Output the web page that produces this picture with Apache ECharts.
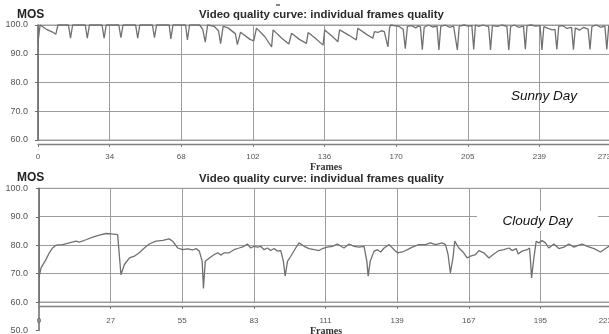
<!DOCTYPE html>
<html><head><meta charset="utf-8">
<script src="https://cdn.jsdelivr.net/npm/echarts@6/dist/echarts.min.js"></script>
<style>html,body{margin:0;padding:0;background:#fff}#c{width:609px;height:334px}</style>
</head><body><div id="c"></div>
<script>
// ---- data ----
const sunnyTicks = ['0','34','68','102','136','170','205','239','273'];
const cloudyTicks = ['0','27','55','83','111','139','167','195','223'];
const mosTicksTop = [60, 70, 80, 90, 100];
const mosTicksBottom = [50, 60, 70, 80, 90, 100];

const sunnyFrames = [0,1,4,7,8.5,9.5,
 14.5,15.5,16.5, 22.5,23.5,24.5, 30.5,31.5,32.5, 38.5,39.5,40.5, 46.5,47.5,48.5,
 54.5,55.5,56.5, 62.5,63.3,64.3, 70.3,71.2,72.2, 77,78.5,79.7,80.8, 84,86,87,88.2,
 90.5,94,95,96.5,101,102.8,
 104.1,108,111.3, 112,116,119.5, 120.8,124.5,127.9, 128.7,132,135.8, 136.6,140,142.9,
 143.7,148,151.6, 152.4,156,159.5, 160.3,162,163.5,165,165.8,166.7,167.5,168,
 172,174,175,176,
 178,180,181,182.2,183.1,184, 186,188,190.1,191,191.9, 194,196,198,198.9,199.8,200.7,
 203,205,206.7,207.6,208.4, 210,212,214.7,215.6,216.5, 219,221,223.4,224.3,225.2,
 227,229,231.3,232.2,233, 235,237,239.2,240.1,241, 243,245,246.3,247.2,248.1,
 250,252,254.2,255.1,256, 258,260,262.1,263,263.9, 266,268,270.1,271,271.9,273];
const sunnyMos = [94,100,98.5,97.5,96.8,100,
 100,95.4,100, 100,95.4,100, 100,95.4,100, 100,95.6,100, 100,95.4,100,
 100,95.6,100, 100,95.2,100, 100,94.8,100, 100,98.5,94,100, 99.5,98,93.5,99.5,
 99,97,93.2,97.5,95,94.5,
 98.9,96,92.4, 98.3,95.5,93.4, 97.1,95,93.6, 97.4,95.5,93, 98.3,96.2,94.2,
 98.3,96.5,94.8, 98.9,97,95.4, 97.7,97.4,98,97.7,97.5,92.4,99,100,
 99.5,98.5,91.8,99.5,
 99.8,99,99.6,99.4,91.4,99.2, 100,99.3,99.6,91.3,99.5, 100,99.2,99.6,99.3,91.3,99.6,
 100,99.6,99.8,91.5,100, 99.5,100,99.4,91.3,99.8, 99.5,100,99.5,91.3,99.5,
 100,99.2,99.6,91.6,99.8, 100,99.6,99.8,91.3,99.4, 98.8,98.3,98.5,91.5,99.6,
 99.8,98.8,99.2,91.4,99, 98.2,99.2,98.6,91.5,99.5, 100,99.2,99.6,91.5,99.6,99.8];

const cloudyFrames = [0,0.8,2.7,4,5.3,6.6,9.2,11.8,14.4,15.7,18.3,20.9,23.5,26.1,28,30.6,31,31.9,
 33.2,35.2,37.1,39,41,42.9,45.5,48.2,50.7,52,54,55.9,57.9,59.8,61.1,62.4,63.5,64,64.7,66.3,
 68.2,69.6,70.9,72.1,74,75.9,77.9,79.8,81.1,82.4,83.7,85,86.3,87.6,88.9,90.2,91.5,92.8,94.1,
 95.1,95.8,96.7,98,99.9,101.2,103.2,105.1,107.1,109,110.3,112.2,114.2,116.1,117.5,118.7,120.7,
 122.6,124.6,126.5,127.6,128.1,128.9,130.4,131.7,133,134.3,136.3,138.2,139.5,141.4,143.4,145.3,
 147.8,150.4,152.3,154.3,156.9,158.2,159.2,160.1,161.1,161.8,163.4,165.3,166.6,167.9,169.9,
 171.2,173.1,175.1,177,179,180.9,182.9,184.1,185.7,186.5,188,190,190.9,191.3,191.7,192.6,193.5,
 194.5,195.8,197.1,198.4,200.4,202.3,204.3,206.2,208.2,210.1,211.4,213.4,216,218.5,220.5,222.4,223];
const cloudyMos = [68.7,72,74.9,77.3,79,80,80.2,80.8,81.4,81.1,81.9,82.8,83.5,84.1,84,83.7,83.5,69.6,
 73.1,75.5,76.1,77.3,79,80.4,81.4,81.7,82.2,81.4,79,78.4,78.7,78.3,78.8,77.9,74.3,64.8,74.3,75.5,
 76.7,77.3,76.5,77.3,77.3,78.4,79,79.6,80.4,79,79.6,79.3,79.6,78.4,79,78.1,78.8,77.9,78.1,
 74.3,69.1,74.3,76.1,79,80.8,79.6,78.8,78.4,78.1,78.8,79.3,79.6,80.4,79.6,79,80.4,
 79.6,79.3,79.6,74.3,69.1,74.3,77.9,78.4,77.6,79,80.2,78.4,77.3,77.6,78.4,79.3,
 80.2,80.2,80.8,80.2,80.8,80.2,76.7,70.2,75.5,81.4,79,77.3,75.5,76.1,76.7,
 78.1,77.3,75.5,76.9,78.1,78.4,79,78.1,78.8,76.9,77.9,78.4,79,74.3,68.5,75.5,81.4,
 80.8,81.6,80.8,79,80.4,78.8,79.3,80.4,79.3,80,80.4,79.6,78.8,77.6,78.8,80,80];

const zip = (a, b) => a.map((v, i) => [v, b[i]]);

// ---- styles ----
const GRID = '#9c9c9c';
const AX = '#808080';
const LBL = '#555';
const sans = '"Liberation Sans", Arial, sans-serif';

function xAxisFor(gridIndex, maxV, ticks, margin) {
  const step = maxV / (ticks.length - 1);
  return {
    type: 'value', gridIndex, min: 0, max: maxV, interval: step, offset: 4,
    axisLine: { show: true, lineStyle: { color: AX, width: 1.3 } },
    axisTick: { show: true, length: 3, lineStyle: { color: AX } },
    axisLabel: { fontSize: 8, color: LBL, fontFamily: sans, margin: margin, alignMaxLabel: 'right',
      formatter: v => ticks[Math.round(v / step)] },
    splitLine: { show: true, lineStyle: { color: GRID, width: 1 } }
  };
}

const chart = echarts.init(document.getElementById('c'), null, { renderer: 'canvas' });
chart.setOption({
  animation: false,
  backgroundColor: '#fff',
  grid: [
    { left: 38, top: 25, width: 573, height: 115, show: true, borderColor: GRID, borderWidth: 1, outerBoundsMode: 'none', containLabel: false },
    { left: 39, top: 188.3, width: 573, height: 113.7, show: true, borderColor: GRID, borderWidth: 1, outerBoundsMode: 'none', containLabel: false },
    { left: 39, top: 188.3, width: 1, height: 142.3, show: false, outerBoundsMode: 'none', containLabel: false }
  ],
  xAxis: [
    xAxisFor(0, 273, sunnyTicks, 9),
    xAxisFor(1, 223, cloudyTicks, 11),
    { type: 'value', gridIndex: 2, show: false, min: 0, max: 1 }
  ],
  yAxis: [
    { type: 'value', gridIndex: 0, min: mosTicksTop[0], max: mosTicksTop[mosTicksTop.length - 1], interval: 10, offset: 6,
      axisLine: { show: true, lineStyle: { color: '#6a6a6a', width: 1.5 } },
      axisTick: { show: true, length: 3, lineStyle: { color: '#6a6a6a' } },
      axisLabel: { fontSize: 9, color: LBL, fontFamily: sans, margin: 4, formatter: v => v.toFixed(1) },
      splitLine: { show: true, lineStyle: { color: GRID, width: 1 } } },
    { type: 'value', gridIndex: 1, min: 60, max: 100, interval: 10,
      axisLine: { show: false }, axisTick: { show: false }, axisLabel: { show: false },
      splitLine: { show: true, lineStyle: { color: GRID, width: 1 } } },
    { type: 'value', gridIndex: 2, min: mosTicksBottom[0], max: mosTicksBottom[mosTicksBottom.length - 1], interval: 10, offset: 7,
      axisLine: { show: true, lineStyle: { color: '#6a6a6a', width: 1.5 } },
      axisTick: { show: true, length: 3, lineStyle: { color: '#6a6a6a' } },
      axisLabel: { fontSize: 9, color: LBL, fontFamily: sans, margin: 4, formatter: v => v.toFixed(1) },
      splitLine: { show: false } }
  ],
  series: [
    { type: 'line', xAxisIndex: 0, yAxisIndex: 0, data: zip(sunnyFrames, sunnyMos), showSymbol: false,
      lineStyle: { color: '#707070', width: 1.3 }, clip: false, z: 3 },
    { type: 'line', xAxisIndex: 1, yAxisIndex: 1, data: zip(cloudyFrames, cloudyMos), showSymbol: false,
      lineStyle: { color: '#707070', width: 1.3 }, clip: false, z: 3 }
  ],
  graphic: [
    { type: 'text', x: 17, y: 15, z: 100, style: { text: 'MOS', font: 'bold 12px ' + sans, fill: '#222', textVerticalAlign: 'middle' } },
    { type: 'text', x: 321.5, y: 15, z: 100, style: { text: 'Video quality curve: individual frames quality', font: 'bold 11.4px ' + sans, fill: '#2a2a2a', textAlign: 'center', textVerticalAlign: 'middle' } },
    { type: 'text', x: 326, y: 167, z: 100, style: { text: 'Frames', font: 'bold 10px "Liberation Serif", serif', fill: '#333', textAlign: 'center', textVerticalAlign: 'middle' } },
    { type: 'text', x: 544, y: 96, z: 100, style: { text: 'Sunny Day', font: 'italic 13.5px ' + sans, fill: '#111', textAlign: 'center', textVerticalAlign: 'middle' } },
    { type: 'text', x: 17, y: 177.5, z: 100, style: { text: 'MOS', font: 'bold 12px ' + sans, fill: '#222', textVerticalAlign: 'middle' } },
    { type: 'text', x: 321.5, y: 179, z: 100, style: { text: 'Video quality curve: individual frames quality', font: 'bold 11.4px ' + sans, fill: '#2a2a2a', textAlign: 'center', textVerticalAlign: 'middle' } },
    { type: 'text', x: 326, y: 331, z: 100, style: { text: 'Frames', font: 'bold 10px "Liberation Serif", serif', fill: '#333', textAlign: 'center', textVerticalAlign: 'middle' } },
    { type: 'rect', z: 99, shape: { x: 477, y: 211, width: 121, height: 20 }, style: { fill: '#fff' } },
    { type: 'text', x: 537.5, y: 221, z: 100, style: { text: 'Cloudy Day', font: 'italic 13.5px ' + sans, fill: '#111', textAlign: 'center', textVerticalAlign: 'middle' } },
    { type: 'rect', z: 100, shape: { x: 276, y: 4.3, width: 4, height: 1.4 }, style: { fill: '#555' } }
  ]
});
</script></body></html>
